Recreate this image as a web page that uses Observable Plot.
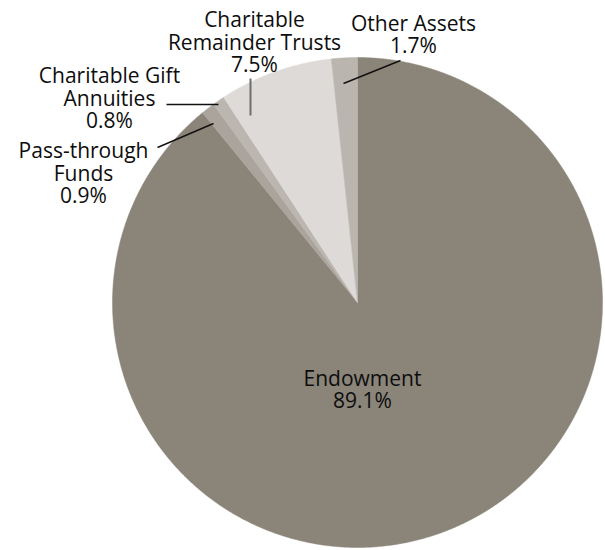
<!DOCTYPE html>
<html>
<head>
<meta charset="utf-8">
<script src="https://cdn.jsdelivr.net/npm/d3@7"></script>
<script src="https://cdn.jsdelivr.net/npm/@observablehq/plot@0.6"></script>
<style>
  html, body { margin: 0; padding: 0; background: #fff; }
</style>
</head>
<body>
<div id="chart"></div>
<script>
// ---- data ----
const names = ["Endowment", "Pass-through Funds", "Charitable Gift Annuities", "Charitable Remainder Trusts", "Other Assets"];
const shares = [89.1, 0.9, 0.8, 7.5, 1.7];
const labelText = ["Endowment", "Pass-through\nFunds", "Charitable Gift\nAnnuities", "Charitable\nRemainder Trusts", "Other Assets"];

// ---- layout / style ----
const W = 605, H = 550;
const cx = 357, cy = 302, R = 245;
const colors = ["#8b8479", "#aaa49d", "#bbb6b0", "#dedad7", "#bab5af"];
const labelPos = [[362, 389], [83, 173], [109, 98], [254, 42], [413, 34]];
const leaders = [null, [157, 147, 213, 123], [166, 104, 218, 104], [250, 78, 250, 115], [343, 83, 400, 60]];
const leaderColor = [null, "#111", "#111", "#6e6e6e", "#111"];
const leaderWidth = [0, 1.4, 1.4, 2, 1.4];

// ---- build slices ----
const arcs = d3.pie().sort(null).value(d => d)(shares);
const pts = [];
arcs.forEach((a, i) => {
  pts.push({name: names[i], color: colors[i], x: cx, y: cy});
  const n = Math.max(2, Math.ceil((a.endAngle - a.startAngle) / (Math.PI / 720)));
  for (let k = 0; k <= n; k++) {
    const t = a.startAngle + (a.endAngle - a.startAngle) * k / n;
    pts.push({name: names[i], color: colors[i], x: cx + R * Math.sin(t), y: cy - R * Math.cos(t)});
  }
  pts.push({name: names[i], color: colors[i], x: cx, y: cy});
});

const labels = names.map((n, i) => ({
  text: labelText[i] + "\n" + shares[i].toFixed(1) + "%",
  x: labelPos[i][0], y: labelPos[i][1]
}));
const links = leaders.map((l, i) => l && ({x1: l[0], y1: l[1], x2: l[2], y2: l[3], c: leaderColor[i], w: leaderWidth[i]})).filter(Boolean);

const chart = Plot.plot({
  width: W, height: H,
  margin: 0,
  x: {domain: [0, W], range: [0, W], axis: null},
  y: {domain: [0, H], range: [0, H], axis: null},
  color: {type: "identity"},
  style: {background: "#fff", fontFamily: "'Open Sans', sans-serif"},
  marks: [
    Plot.line(pts, {x: "x", y: "y", z: "name", fill: "color", stroke: "color", strokeWidth: 0.5, curve: "linear"}),
    Plot.link(links, {x1: "x1", y1: "y1", x2: "x2", y2: "y2", stroke: "c", strokeWidth: "w"}),
    Plot.text(labels, {x: "x", y: "y", text: "text", fontSize: 21, lineHeight: 1.06, textAnchor: "middle", lineAnchor: "middle", fill: "#0d0d0d", fontWeight: 500})
  ]
});
document.getElementById("chart").appendChild(chart);
</script>
</body>
</html>
